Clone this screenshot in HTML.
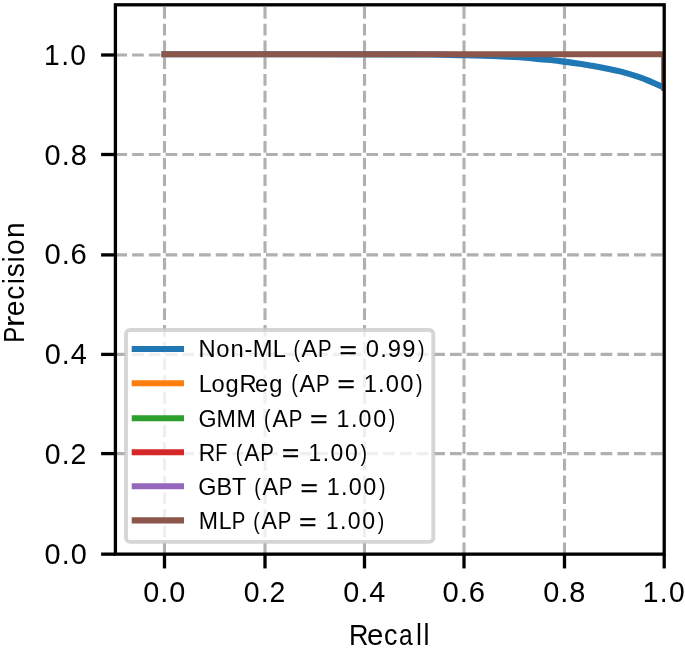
<!DOCTYPE html>
<html><head><meta charset="utf-8"><title>Precision-Recall</title>
<style>html,body{margin:0;padding:0;background:#fff;}svg{display:block;will-change:transform;}text{font-family:"Liberation Sans",sans-serif;fill:#000;}</style>
</head><body>
<svg width="685" height="648" viewBox="0 0 685 648">
<rect x="0" y="0" width="685" height="648" fill="#fff"/>
<defs><clipPath id="ax"><rect x="115.4" y="4.8" width="548.80" height="549.35"/></clipPath></defs>
<g stroke="#b0b0b0" stroke-width="3.1" stroke-dasharray="11.68 5.05" fill="none">
<path d="M164.50 554.15 V4.8"/>
<path d="M265.00 554.15 V4.8"/>
<path d="M364.50 554.15 V4.8"/>
<path d="M464.00 554.15 V4.8"/>
<path d="M564.50 554.15 V4.8"/>
<path d="M115.4 453.60 H664.2"/>
<path d="M115.4 354.40 H664.2"/>
<path d="M115.4 254.90 H664.2"/>
<path d="M115.4 154.50 H664.2"/>
<path d="M115.4 55.00 H664.2"/>
</g>
<g clip-path="url(#ax)" fill="none" stroke-width="6.1" stroke-linecap="square" stroke-linejoin="round">
<path d="M164.50 54.30 C187.08 54.30 260.75 54.29 300.00 54.30 C339.25 54.31 376.67 54.30 400.00 54.35 C423.33 54.40 427.50 54.41 440.00 54.60 C452.50 54.79 465.33 55.23 475.00 55.50 C484.67 55.77 490.50 55.96 498.00 56.25 C505.50 56.54 513.00 56.76 520.00 57.25 C527.00 57.74 533.33 58.56 540.00 59.20 C546.67 59.84 553.33 60.33 560.00 61.10 C566.67 61.87 575.00 63.08 580.00 63.80 C585.00 64.52 586.67 64.83 590.00 65.40 C593.33 65.97 595.00 66.20 600.00 67.20 C605.00 68.20 613.33 69.70 620.00 71.40 C626.67 73.10 635.00 75.73 640.00 77.40 C645.00 79.07 646.67 80.00 650.00 81.40 C653.33 82.80 657.63 84.73 660.00 85.80 C662.37 86.87 663.50 87.47 664.20 87.80" stroke="#1f77b4"/>
<polyline points="164.5,54.3 664.2,54.3 664.2,87.6" stroke="#8c564b" stroke-linejoin="miter"/>
</g>
<g stroke="#000" stroke-width="3.3" fill="none">
<path d="M164.50 554.15 v14.3"/>
<path d="M115.4 554.15 h-14.3"/>
<path d="M265.00 554.15 v14.3"/>
<path d="M115.4 453.60 h-14.3"/>
<path d="M364.50 554.15 v14.3"/>
<path d="M115.4 354.40 h-14.3"/>
<path d="M464.00 554.15 v14.3"/>
<path d="M115.4 254.90 h-14.3"/>
<path d="M564.50 554.15 v14.3"/>
<path d="M115.4 154.50 h-14.3"/>
<path d="M664.20 554.15 v14.3"/>
<path d="M115.4 55.00 h-14.3"/>
<rect x="115.4" y="4.8" width="548.80" height="549.35" stroke-linejoin="miter"/>
</g>
<text transform="translate(142.59 602.00) scale(0.9815 1)" font-size="29.4" x="0.64 18.03 27.17" y="0">0.0</text>
<text transform="translate(243.09 602.00) scale(0.9669 1)" font-size="29.4" x="0.77 18.37 27.39" y="0">0.2</text>
<text transform="translate(342.59 602.00) scale(0.9802 1)" font-size="29.4" x="0.65 18.06 27.23" y="0">0.4</text>
<text transform="translate(442.09 602.00) scale(0.9935 1)" font-size="29.4" x="0.53 17.77 26.78" y="0">0.6</text>
<text transform="translate(542.59 602.00) scale(0.9841 1)" font-size="29.4" x="0.61 17.97 27.12" y="0">0.8</text>
<text transform="translate(642.09 602.00) scale(0.9608 1)" font-size="29.4" x="0.74 18.51 27.94" y="0">1.0</text>
<text transform="translate(44.00 564.20) scale(0.9815 1)" font-size="29.4" x="0.64 18.03 27.17" y="0">0.0</text>
<text transform="translate(44.00 464.28) scale(0.9669 1)" font-size="29.4" x="0.77 18.37 27.39" y="0">0.2</text>
<text transform="translate(44.00 364.36) scale(0.9802 1)" font-size="29.4" x="0.65 18.06 27.23" y="0">0.4</text>
<text transform="translate(44.00 264.44) scale(0.9935 1)" font-size="29.4" x="0.53 17.77 26.78" y="0">0.6</text>
<text transform="translate(44.00 164.52) scale(0.9841 1)" font-size="29.4" x="0.61 17.97 27.12" y="0">0.8</text>
<text transform="translate(43.40 64.60) scale(0.9608 1)" font-size="29.4" x="0.74 18.51 27.94" y="0">1.0</text>
<text transform="translate(348.90 644.50) scale(0.9403 1)" font-size="28.6" y="0"><tspan x="0.24" y="0">R</tspan><tspan x="19.13" y="0" textLength="17.44" lengthAdjust="spacingAndGlyphs">e</tspan><tspan x="37.24" y="0">c</tspan><tspan x="53.33" y="0" textLength="14.50" lengthAdjust="spacingAndGlyphs">a</tspan><tspan x="71.37 79.43" y="0">ll</tspan></text>
<text transform="translate(23.90 343.40) rotate(-90) scale(0.9844 1)" font-size="28.6" y="0"><tspan x="0.67" y="0" textLength="16.41" lengthAdjust="spacingAndGlyphs">P</tspan><tspan x="16.43" y="0" textLength="11.80" lengthAdjust="spacingAndGlyphs">r</tspan><tspan x="27.65 44.25 60.04 67.31 82.19 89.72 107.03" y="0">ecision</tspan></text>
<rect x="126.0" y="330.0" width="307.30" height="211.90" rx="4" ry="4" fill="#fff" fill-opacity="0.8" stroke="#ccc" stroke-opacity="0.8" stroke-width="3.9"/>
<path d="M131.7 349.07 H184.0" stroke="#1f77b4" stroke-width="6.1" fill="none"/>
<text transform="translate(198.55 357.47) scale(0.9774 1)" font-size="24.3" y="0"><tspan x="0.02 18.04 32.73 47.08 55.44 76.01 88.83" y="0">Non-ML </tspan><tspan x="97.06" y="0" textLength="6.65" lengthAdjust="spacingAndGlyphs">(</tspan><tspan x="105.41" y="0">A</tspan><tspan x="122.16" y="0" textLength="13.93" lengthAdjust="spacingAndGlyphs">P</tspan><tspan x="135.78" y="0"> </tspan><tspan x="144.29" y="0.8" stroke="#000" stroke-width="0.45" textLength="17.69" lengthAdjust="spacingAndGlyphs">=</tspan><tspan x="162.98 171.16 185.80 193.52 208.49" y="0"> 0.99</tspan><tspan x="224.59" y="0" textLength="6.65" lengthAdjust="spacingAndGlyphs">)</tspan></text>
<path d="M131.7 383.20 H184.0" stroke="#ff7f0e" stroke-width="6.1" fill="none"/>
<text transform="translate(198.55 391.60) scale(0.9760 1)" font-size="24.3" y="0"><tspan x="0.31 13.16 27.70 41.87 57.94 72.47 86.86" y="0">LogReg </tspan><tspan x="95.11" y="0" textLength="6.66" lengthAdjust="spacingAndGlyphs">(</tspan><tspan x="103.48" y="0">A</tspan><tspan x="120.24" y="0" textLength="13.95" lengthAdjust="spacingAndGlyphs">P</tspan><tspan x="133.88" y="0"> </tspan><tspan x="142.40" y="0.8" stroke="#000" stroke-width="0.45" textLength="17.71" lengthAdjust="spacingAndGlyphs">=</tspan><tspan x="161.12 169.25 183.97 191.80 206.79" y="0"> 1.00</tspan><tspan x="222.81" y="0" textLength="6.66" lengthAdjust="spacingAndGlyphs">)</tspan></text>
<path d="M131.7 418.20 H184.0" stroke="#2ca02c" stroke-width="6.1" fill="none"/>
<text transform="translate(198.55 426.60) scale(0.9552 1)" font-size="24.3" y="0"><tspan x="-0.14 18.93 39.70 60.21" y="0">GMM </tspan><tspan x="68.63" y="0" textLength="6.81" lengthAdjust="spacingAndGlyphs">(</tspan><tspan x="77.36" y="0">A</tspan><tspan x="94.31" y="0" textLength="14.25" lengthAdjust="spacingAndGlyphs">P</tspan><tspan x="108.25" y="0"> </tspan><tspan x="116.96" y="0.8" stroke="#000" stroke-width="0.45" textLength="18.10" lengthAdjust="spacingAndGlyphs">=</tspan><tspan x="136.08 144.54 159.50 167.57 182.89" y="0"> 1.00</tspan><tspan x="199.11" y="0" textLength="6.81" lengthAdjust="spacingAndGlyphs">)</tspan></text>
<path d="M131.7 452.20 H184.0" stroke="#d62728" stroke-width="6.1" fill="none"/>
<text transform="translate(198.55 460.60) scale(0.9415 1)" font-size="24.3" y="0"><tspan x="0.11" y="0">R</tspan><tspan x="17.62" y="0" textLength="12.86" lengthAdjust="spacingAndGlyphs">F</tspan><tspan x="31.02" y="0"> </tspan><tspan x="39.57" y="0" textLength="6.91" lengthAdjust="spacingAndGlyphs">(</tspan><tspan x="48.55" y="0">A</tspan><tspan x="65.62" y="0" textLength="14.46" lengthAdjust="spacingAndGlyphs">P</tspan><tspan x="79.76" y="0"> </tspan><tspan x="88.60" y="0.8" stroke="#000" stroke-width="0.45" textLength="18.36" lengthAdjust="spacingAndGlyphs">=</tspan><tspan x="108.00 116.68 131.81 140.05 155.59" y="0"> 1.00</tspan><tspan x="171.95" y="0" textLength="6.91" lengthAdjust="spacingAndGlyphs">)</tspan></text>
<path d="M131.7 486.30 H184.0" stroke="#9467bd" stroke-width="6.1" fill="none"/>
<text transform="translate(198.55 494.70) scale(0.9621 1)" font-size="24.3" y="0"><tspan x="-0.21 18.57 34.83 49.53" y="0">GBT </tspan><tspan x="57.89" y="0" textLength="6.76" lengthAdjust="spacingAndGlyphs">(</tspan><tspan x="66.50" y="0">A</tspan><tspan x="83.39" y="0" textLength="14.15" lengthAdjust="spacingAndGlyphs">P</tspan><tspan x="97.22" y="0"> </tspan><tspan x="105.87" y="0.8" stroke="#000" stroke-width="0.45" textLength="17.97" lengthAdjust="spacingAndGlyphs">=</tspan><tspan x="124.85 133.20 148.08 156.08 171.29" y="0"> 1.00</tspan><tspan x="187.44" y="0" textLength="6.76" lengthAdjust="spacingAndGlyphs">)</tspan></text>
<path d="M131.7 520.40 H184.0" stroke="#8c564b" stroke-width="6.1" fill="none"/>
<text transform="translate(198.55 528.80) scale(0.9505 1)" font-size="24.3" y="0"><tspan x="0.32 21.39" y="0">ML</tspan><tspan x="34.95" y="0" textLength="14.32" lengthAdjust="spacingAndGlyphs">P</tspan><tspan x="48.95" y="0"> </tspan><tspan x="57.42" y="0" textLength="6.84" lengthAdjust="spacingAndGlyphs">(</tspan><tspan x="66.23" y="0">A</tspan><tspan x="83.23" y="0" textLength="14.32" lengthAdjust="spacingAndGlyphs">P</tspan><tspan x="97.23" y="0"> </tspan><tspan x="105.99" y="0.8" stroke="#000" stroke-width="0.45" textLength="18.19" lengthAdjust="spacingAndGlyphs">=</tspan><tspan x="125.20 133.74 148.76 156.89 172.29" y="0"> 1.00</tspan><tspan x="188.55" y="0" textLength="6.84" lengthAdjust="spacingAndGlyphs">)</tspan></text>
</svg>
</body></html>
